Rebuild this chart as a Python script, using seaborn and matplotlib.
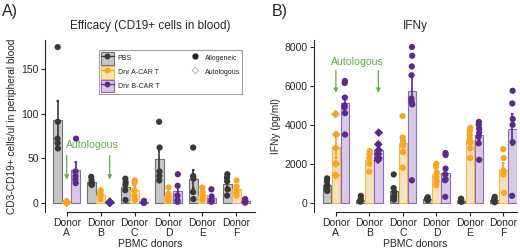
import numpy as np
import pandas as pd
import matplotlib.pyplot as plt
import seaborn as sns
from matplotlib.patches import Patch
from matplotlib.lines import Line2D

# Donors and treatment groups
donors = ["A", "B", "C", "D", "E", "F"]
groups = ["PBS", "Dnr A-CAR T", "Dnr B-CAR T"]
# group that was autologous for a given donor
autologous = {"A": "Dnr A-CAR T", "B": "Dnr B-CAR T"}

# CD3-CD19+ cells/ul in peripheral blood, one list per donor
cd19_pbs = [[175, 91, 72, 67, 61], [29, 25, 22, 21, 20], [27, 23, 20, 14, 3],
            [91, 62, 35, 30, 25], [62, 30, 27, 12, 4], [32, 28, 24, 15, 8]]
cd19_car_a = [[1, 0.5, 0, 0, 0], [14, 11, 9, 7, 4], [25, 22, 14, 8, 3],
              [17, 10, 7, 4, 2], [17, 12, 8, 5, 3], [25, 18, 14, 11, 8]]
cd19_car_b = [[72, 35, 30, 26, 22], [1, 0.5, 0, 0, 0], [2, 1, 0, 0, 0],
              [32, 19, 8, 3, 1], [15, 7, 3, 2, 1], [4, 3, 2, 1, 0]]

# IFNy (pg/ml), one list per donor
ifn_pbs = [[1250, 1100, 900, 800, 700, 600], [350, 200, 100, 80, 50],
           [1450, 750, 550, 350, 250, 150], [280, 220, 180, 150, 120],
           [200, 150, 100, 60, 40], [300, 200, 120, 60, 20]]
ifn_car_a = [[4550, 3500, 2800, 2000, 1400], [2650, 2500, 2300, 2000, 1600],
             [4450, 3350, 3150, 2950, 2600, 1800], [2000, 1850, 1550, 1300, 1100, 900],
             [3850, 3700, 3500, 3300, 3100, 2800, 2300], [2750, 2300, 1650, 1550, 1450, 500]]
ifn_car_b = [[6250, 6150, 5400, 5000, 4900, 4600, 3500], [3600, 3000, 2700, 2500, 2300, 2200],
             [8000, 7550, 7000, 6550, 5350, 5200, 5050, 1150],
             [2550, 2450, 1750, 1450, 1200, 1150, 300],
             [4150, 4000, 3800, 3600, 3400, 3050, 2200], [5750, 5100, 4300, 4000, 3100, 350]]

dot_colors = ["#383838", "#f6a623", "#5a2a8c"]
fill_colors = ["#c6c6c6", "#fde4b4", "#d8c6ea"]
edge_colors = ["#707070", "#f4b84e", "#8d6bb6"]
green = "#62ac4c"


def to_long(pbs, car_a, car_b):
    rows = []
    for grp, vals in zip(groups, [pbs, car_a, car_b]):
        for donor, pts in zip(donors, vals):
            for v in pts:
                rows.append({"donor": donor, "group": grp, "value": v,
                             "auto": autologous.get(donor) == grp})
    return pd.DataFrame(rows)


def hue_index(x):
    off = x - round(x)
    return int(round(off / 0.2667)) + 1


def draw_panel(ax, df):
    sns.barplot(data=df, x="donor", y="value", hue="group", order=donors,
                hue_order=groups, palette=fill_colors, errorbar="se", capsize=0.12,
                width=0.8, gap=0.06, err_kws={"linewidth": 1.2}, legend=False, ax=ax)
    for bar in ax.patches:
        idx = hue_index(bar.get_x() + bar.get_width() / 2)
        bar.set_edgecolor(edge_colors[idx])
        bar.set_linewidth(0.8)
    for line in ax.lines:
        idx = hue_index(np.nanmean(line.get_xdata()))
        line.set_color(dot_colors[idx])
    for auto, marker in [(False, "o"), (True, "D")]:
        sns.stripplot(data=df[df["auto"] == auto], x="donor", y="value", hue="group",
                      order=donors, hue_order=groups, palette=dot_colors, dodge=True,
                      jitter=0.035, size=4.5, marker=marker, linewidth=0,
                      legend=False, ax=ax)
    ax.set_xticks(range(len(donors)))
    ax.set_xticklabels([f"Donor\n{d}" for d in donors], fontsize=7.5, linespacing=0.95)
    ax.set_xlabel("PBMC donors", fontsize=7.5, labelpad=1)
    ax.tick_params(axis="y", labelsize=7.5, length=3, width=0.8, pad=1.5)
    ax.tick_params(axis="x", length=3, width=0.8, pad=1.5)
    sns.despine(ax=ax)
    for s in ["left", "bottom"]:
        ax.spines[s].set_linewidth(0.8)


def add_autologous(ax, x_text, y_text, y_start, y_end):
    ax.text(x_text, y_text, "Autologous", color=green, fontsize=7.6, ha="center", va="center")
    for x in [0, 1.267]:
        ax.annotate("", xy=(x, y_end), xytext=(x, y_start),
                    arrowprops=dict(arrowstyle="-|>", color=green, lw=0.9,
                                    mutation_scale=6, shrinkA=0, shrinkB=0))


sns.set_style("ticks")
plt.rcParams["font.family"] = ["Liberation Sans", "DejaVu Sans"]

np.random.seed(3)
fig = plt.figure(figsize=(5.2, 2.5), dpi=100)
axA = fig.add_axes([0.0865, 0.152, 0.404, 0.688])
axB = fig.add_axes([0.604, 0.152, 0.39, 0.688])

# Panel A
draw_panel(axA, to_long(cd19_pbs, cd19_car_a, cd19_car_b))
axA.set_xlim(-0.64, 5.55)
axA.set_ylim(-10.5, 183)
axA.set_yticks([0, 50, 100, 150])
axA.spines["bottom"].set_bounds(0, 5.55)
axA.set_ylabel("CD3-CD19+ cells/ul in peripheral blood", fontsize=7.3, labelpad=3)
axA.set_title("Efficacy (CD19+ cells in blood)", fontsize=8.5, pad=8)
add_autologous(axA, 0.77, 65, 53, 26)

handles = [(Patch(facecolor=f, edgecolor=e, lw=0.8),
            Line2D([], [], color=c, marker="o", markersize=3.2, lw=0.9))
           for f, e, c in zip(fill_colors, edge_colors, dot_colors)]
handles += [Line2D([], [], ls="", marker="o", color="#222222", markersize=3.5),
            Line2D([], [], ls="", marker="D", markerfacecolor="white",
                   markeredgecolor="#aaaaaa", markeredgewidth=0.6, markersize=3.3),
            Line2D([], [], ls="", marker="")]
labels = groups + ["Allogeneic", "Autologous", ""]
leg = axA.legend(handles, labels, ncol=2, loc="upper right", bbox_to_anchor=(0.955, 0.96),
                 fontsize=5, handlelength=1.8, handleheight=2.4, labelspacing=0.2,
                 columnspacing=4.2, handletextpad=0.6, borderpad=0.25,
                 frameon=True, fancybox=False, edgecolor="#888888")
leg.get_frame().set_linewidth(0.8)

# Panel B
draw_panel(axB, to_long(ifn_pbs, ifn_car_a, ifn_car_b))
axB.set_xlim(-0.65, 5.4)
axB.set_ylim(-480, 8360)
axB.set_yticks([0, 2000, 4000, 6000, 8000])
axB.spines["bottom"].set_bounds(0, 5.4)
axB.set_ylabel("IFNy (pg/ml)", fontsize=7.3, labelpad=3)
axB.set_title("IFNy", fontsize=8.5, pad=8)
add_autologous(axB, 0.63, 7250, 6800, 5650)

fig.text(0.004, 0.985, "A)", fontsize=11.5, va="top")
fig.text(0.522, 0.985, "B)", fontsize=11.5, va="top")

fig.savefig("out.png", dpi=100)
